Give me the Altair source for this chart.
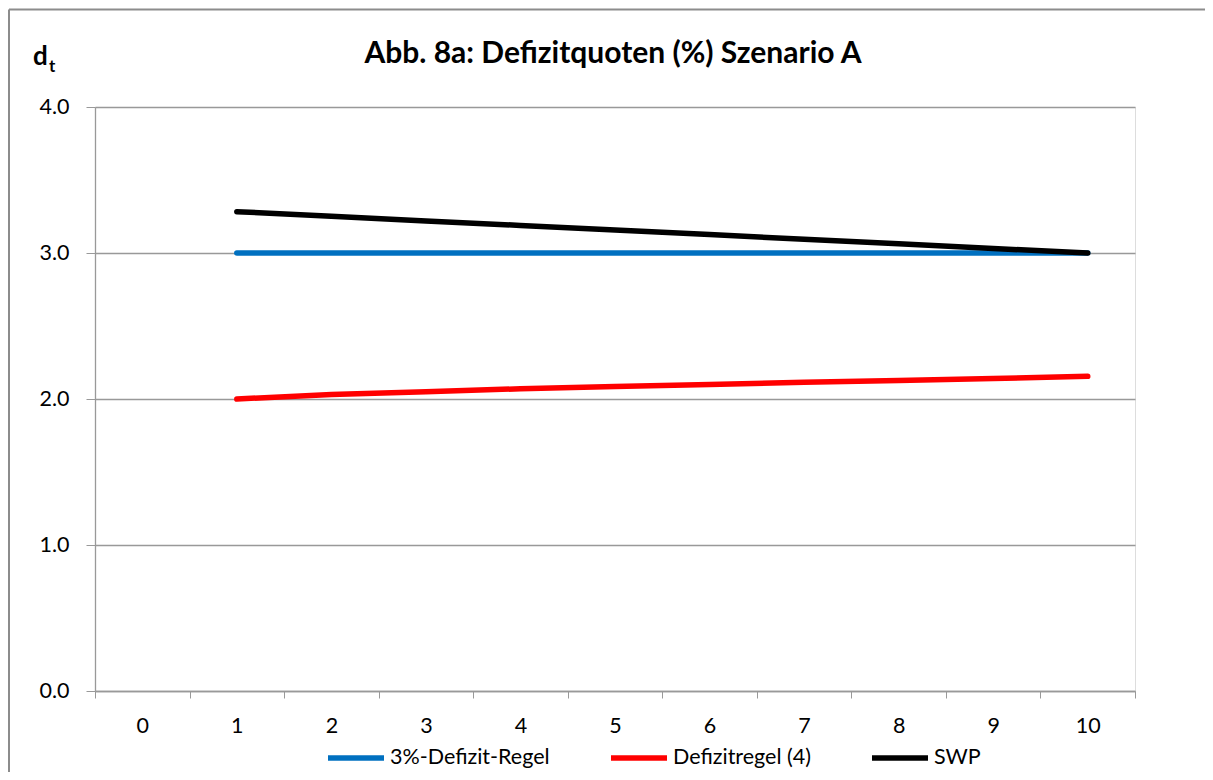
import altair as alt
import pandas as pd

# ---- data ----
years = [1, 2, 3, 4, 5, 6, 7, 8, 9, 10]
regel_3 = [3.00, 3.00, 3.00, 3.00, 3.00, 3.00, 3.00, 3.00, 3.00, 3.00]
regel_4 = [2.00, 2.03, 2.05, 2.07, 2.085, 2.10, 2.115, 2.127, 2.14, 2.155]
swp = [3.283, 3.252, 3.22, 3.189, 3.157, 3.126, 3.094, 3.063, 3.031, 3.00]
categories = [0, 1, 2, 3, 4, 5, 6, 7, 8, 9, 10]
series_names = ["3%-Defizit-Regel", "Defizitregel (4)", "SWP"]
series_colors = ["#0070C0", "#FF0000", "#000000"]
title_text = "Abb. 8a: Defizitquoten (%) Szenario A"

rows = []
for name, vals in zip(series_names, [regel_3, regel_4, swp]):
    for t, v in zip(years, vals):
        rows.append({"t": t, "d": v, "Reihe": name})
df = pd.DataFrame(rows)

FONT = "Lato"
GRID = "#999999"
FS = 21.5

x_enc = alt.X(
    "t:O",
    scale=alt.Scale(type="band", domain=categories, paddingInner=0, paddingOuter=0),
    bandPosition=0.5,
    axis=alt.Axis(
        title=None, grid=False, tickBand="extent", labelAngle=0,
        tickSize=7, tickColor=GRID, domainColor=GRID, domainWidth=1.3,
        labelFontSize=FS, labelFont=FONT, labelColor="#000000", labelPadding=17,
    ),
)
y_enc = alt.Y(
    "d:Q",
    scale=alt.Scale(domain=[0, 4], nice=False, zero=True),
    axis=alt.Axis(
        title=None, values=[0, 1, 2, 3, 4], format=".1f", grid=True,
        gridColor=GRID, gridWidth=1.3, tickSize=9, tickColor=GRID,
        domainColor=GRID, domainWidth=1.3, labelFontSize=FS, labelFont=FONT,
        labelColor="#000000", labelPadding=17,
    ),
)
color_enc = alt.Color(
    "Reihe:N",
    scale=alt.Scale(domain=series_names, range=series_colors),
    legend=alt.Legend(
        title=None, orient="none", direction="horizontal", legendX=230, legendY=620,
        symbolType="stroke", symbolSize=3136, symbolStrokeWidth=5.5,
        labelFontSize=21.5, labelFont=FONT, labelColor="#000000", labelLimit=500,
        labelOffset=3, columnPadding=50, padding=0,
    ),
)

layers = []
for name in series_names:
    layers.append(
        alt.Chart(df)
        .transform_filter(alt.datum.Reihe == name)
        .mark_line(strokeWidth=5.5, strokeCap="round", strokeJoin="round")
        .encode(x=x_enc, y=y_enc, color=color_enc)
    )

one = pd.DataFrame({"k": [0]})
frame_top = alt.Chart(one).mark_rule(color="#8c8c8c", strokeWidth=2).encode(
    x=alt.value(-86), x2=alt.value(1200), y=alt.value(-97.5)
)
frame_left = alt.Chart(one).mark_rule(color="#8c8c8c", strokeWidth=2).encode(
    x=alt.value(-86), y=alt.value(-97.5), y2=alt.value(700)
)
title_mark = alt.Chart(one).mark_text(
    text=title_text, font=FONT, fontSize=30, fontWeight="bold", align="center",
    baseline="alphabetic", color="#000000",
).encode(x=alt.value(518), y=alt.value(-44))
d_label = alt.Chart(one).mark_text(
    text="d", font=FONT, fontSize=26, fontWeight="bold", align="left", baseline="alphabetic"
).encode(x=alt.value(-62), y=alt.value(-42))
t_label = alt.Chart(one).mark_text(
    text="t", font=FONT, fontSize=17, fontWeight="bold", align="left", baseline="alphabetic"
).encode(x=alt.value(-46), y=alt.value(-35))

chart = (
    alt.layer(frame_top, frame_left, *layers, title_mark, d_label, t_label)
    .properties(
        width=1040, height=584,
        padding={"left": 87, "top": 99, "right": 70, "bottom": 81},
        autosize=alt.AutoSizeParams(type="none"),
    )
    .configure_view(stroke=None)
    .configure(background="white")
)

chart.save("out.html", embed_options={"renderer": "svg", "actions": False})
